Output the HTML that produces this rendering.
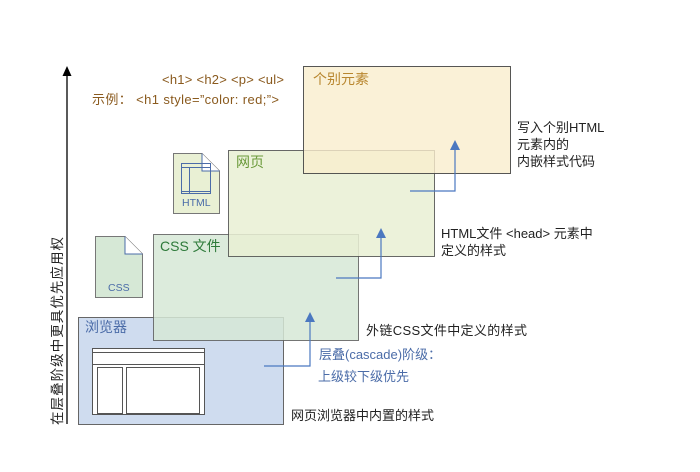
<!DOCTYPE html>
<html><head><meta charset="utf-8"><style>
html,body{margin:0;padding:0;background:#fff;width:700px;height:472px;overflow:hidden}
svg text{font-family:"Liberation Sans","Noto Sans CJK SC",sans-serif}
</style></head><body>
<svg width="700" height="472" viewBox="0 0 700 472" xmlns="http://www.w3.org/2000/svg">
<line x1="67" y1="424" x2="67" y2="74" stroke="#000" stroke-width="1.3"/>
<polygon points="62.5,76 71.5,76 67,66" fill="#000"/>
<text transform="translate(62,425) rotate(-90)" font-size="13.5" fill="#222" textLength="188">在层叠阶级中更具优先应用权</text>

<rect x="78.5" y="317.5" width="205" height="107" fill="#cfdcef" stroke="#666" stroke-width="1"/>
<rect x="153.5" y="234.5" width="205" height="106" fill="#d6e8d6" fill-opacity="0.85" stroke="#555" stroke-opacity="0.8"/>
<rect x="228.5" y="150.5" width="206" height="106" fill="#e9f0d4" fill-opacity="0.85" stroke="#444" stroke-opacity="0.8"/>
<rect x="303.5" y="66.5" width="207" height="107" fill="#f9eecd" fill-opacity="0.8" stroke="#444" stroke-opacity="0.9"/>

<text x="85" y="332" font-size="14" fill="#4b6ca8">浏览器</text>
<text x="160" y="251" font-size="14" fill="#2e7a3a">CSS 文件</text>
<text x="236" y="167" font-size="14" fill="#6a9a3a">网页</text>
<text x="313" y="84" font-size="14" fill="#b8862e">个别元素</text>

<g fill="none" stroke="#555" stroke-width="1">
<rect x="92.5" y="348.5" width="112" height="66" fill="#fff"/>
<line x1="92" y1="352.5" x2="204" y2="352.5"/>
<line x1="92" y1="364.5" x2="204" y2="364.5"/>
<rect x="97.5" y="367.5" width="25" height="46"/>
<rect x="126.5" y="367.5" width="73" height="46"/>
</g>

<path d="M173.5,153.5 H202 L219.5,171 V213.5 H173.5 Z" fill="#e9f0d4" stroke="#777"/>
<path d="M202,153.5 V171 H219.5" fill="#fff" stroke="#4b6ca8"/>
<g fill="none" stroke="#4b6ca8"><rect x="181.5" y="163.5" width="29" height="30"/><line x1="181" y1="167.5" x2="210" y2="167.5"/><line x1="189.5" y1="167" x2="189.5" y2="193"/><line x1="181" y1="191.5" x2="210" y2="191.5"/></g>
<text x="182" y="206" font-size="10.5" fill="#4b6ca8">HTML</text>

<path d="M95.5,236.5 H125 L142.5,254 V297.5 H95.5 Z" fill="#d6e8d6" stroke="#777"/>
<path d="M125,236.5 V254 H142.5" fill="#fff" stroke="#4b6ca8"/>
<text x="108" y="291" font-size="10.5" fill="#4b6ca8">CSS</text>

<g fill="none" stroke="#4b78c0" stroke-width="1.2">
<polyline points="264,366 310,366 310,318"/>
<polyline points="336,278 381,278 381,234"/>
<polyline points="410,191 455,191 455,146"/>
</g>
<g fill="#4b78c0">
<polygon points="305,322 315,322 310,312"/>
<polygon points="376,238 386,238 381,228"/>
<polygon points="450,150 460,150 455,140"/>
</g>

<text x="162" y="84" font-size="13" fill="#8a5a1e" textLength="122">&lt;h1&gt; &lt;h2&gt; &lt;p&gt; &lt;ul&gt;</text>
<text x="92" y="104" font-size="13" fill="#8a5a1e" textLength="187">示例： &lt;h1 style=”color: red;”&gt;</text>

<text font-size="13" fill="#222"><tspan x="517" y="132">写入个别HTML</tspan><tspan x="517" y="149">元素内的</tspan><tspan x="517" y="166">内嵌样式代码</tspan></text>
<text font-size="13" fill="#222"><tspan x="441" y="238">HTML文件 &lt;head&gt; 元素中</tspan><tspan x="441" y="255">定义的样式</tspan></text>
<text x="366" y="335" font-size="13" fill="#222" textLength="161">外链CSS文件中定义的样式</text>
<text font-size="13" fill="#4b6ca8"><tspan x="319" y="359">层叠(cascade)阶级：</tspan><tspan x="318" y="381">上级较下级优先</tspan></text>
<text x="291" y="420" font-size="13" fill="#222">网页浏览器中内置的样式</text>
</svg>
</body></html>
